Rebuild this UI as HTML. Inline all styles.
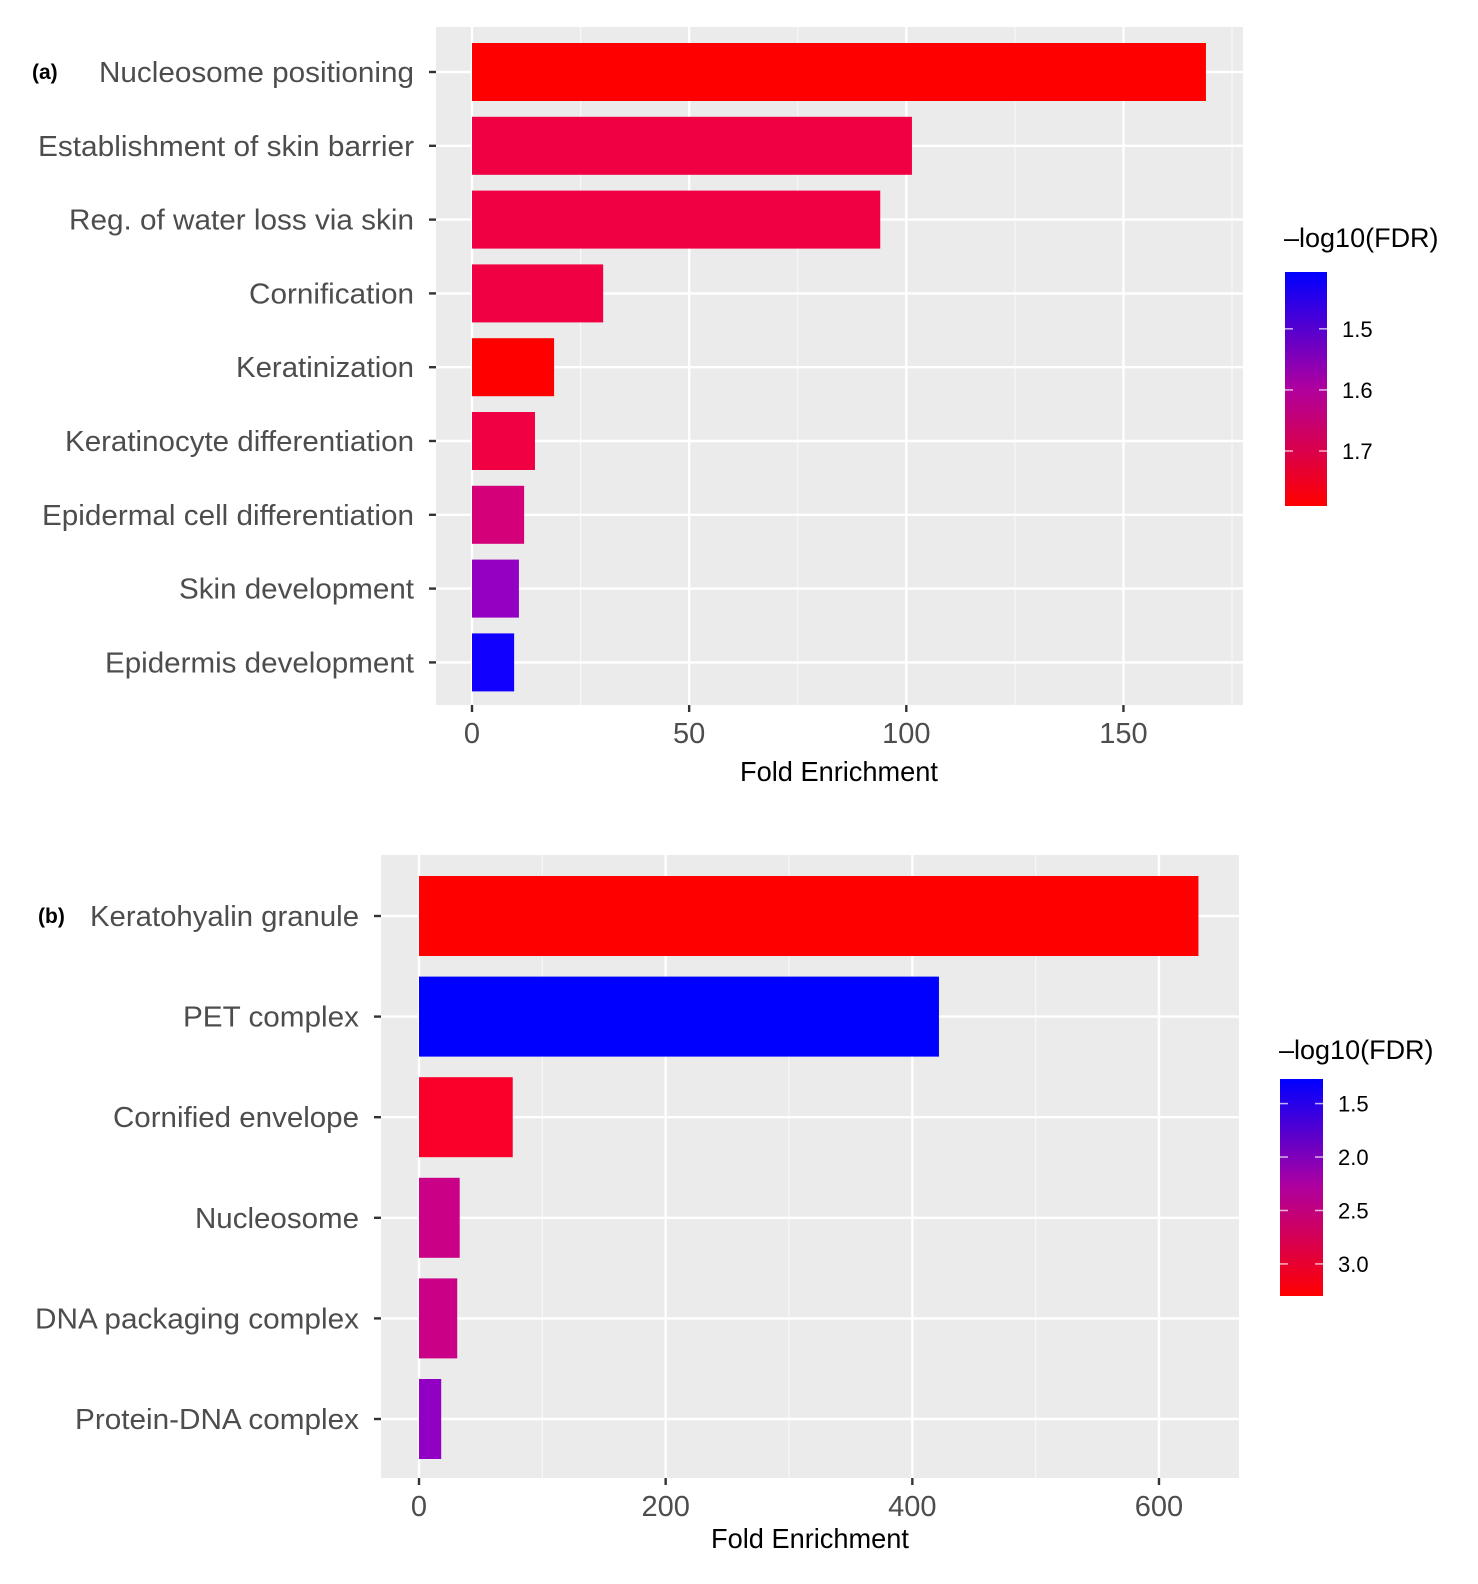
<!DOCTYPE html>
<html><head><meta charset="utf-8"><style>
html,body{margin:0;padding:0;background:#fff;width:1478px;height:1584px;overflow:hidden}
svg{display:block;position:absolute;left:0;top:0;width:1478px;height:1584px;font-family:"Liberation Sans",sans-serif}
</style></head><body>
<svg id="chart" width="1478" height="1584" viewBox="0 0 1478 1584">
<defs>
<linearGradient id="gA" x1="0" y1="0" x2="0" y2="1"><stop offset="0" stop-color="#0000ff"/><stop offset="0.5" stop-color="#b0009e"/><stop offset="1" stop-color="#ff0000"/></linearGradient>
</defs>
<g id="panelA"></g>
<g id="panelB"></g>
</svg>
<script>
var catsA=["Nucleosome positioning","Establishment of skin barrier","Reg. of water loss via skin","Cornification","Keratinization","Keratinocyte differentiation","Epidermal cell differentiation","Skin development","Epidermis development"];
var valsA=[169,101.3,94,30.2,18.9,14.5,12,10.8,9.7];
var fdrA=[1.79,1.75,1.75,1.75,1.79,1.75,1.68,1.55,1.41];
var ticksA=[0,50,100,150];
var labelStartA=[99,38,69,249,236,65,42,179,105];
var catsB=["Keratohyalin granule","PET complex","Cornified envelope","Nucleosome","DNA packaging complex","Protein-DNA complex"];
var valsB=[632,421.6,76,33,31,18];
var fdrB=[3.3,1.27,3.2,2.6,2.6,2.0];
var ticksB=[0,200,400,600];
var labelStartB=[90,183,113,195,35,75];
var legTicksA=[1.5,1.6,1.7];
var legTicksB=[1.5,2.0,2.5,3.0];
var SVGNS="http://www.w3.org/2000/svg";
function mk(p,t,a,txt){
  var e=document.createElementNS(SVGNS,t);
  for(var k in a){e.setAttribute(k,String(a[k]));}
  if(txt!==undefined){e.textContent=txt;}
  p.appendChild(e);
  return e;
}
function col(t){
  if(t<0)t=0; if(t>1)t=1;
  var r=Math.round(255*Math.pow(t,0.55));
  var b=Math.round(255*Math.pow(1-t,0.6));
  return "rgb("+r+",0,"+b+")";
}
function slug(s){return s.toLowerCase().replace(/[^a-z0-9]+/g,"-");}
function panel(g,o){
  function X(v){return o.zeroPx+v*o.pxPerUnit;}
  function Y(i){return o.rowY0+i*o.rowStep;}
  var i,v,e,t;
  e=mk(g,"rect",{x:o.x0,y:o.y0,width:o.x1-o.x0,height:o.y1-o.y0,fill:"#ebebeb"});
  
  
  for(i=0;i<o.minor.length;i++){v=o.minor[i];mk(g,"line",{x1:X(v),x2:X(v),y1:o.y0,y2:o.y1,stroke:"#f8f8f8","stroke-width":1.2});}
  for(i=0;i<o.ticks.length;i++){v=o.ticks[i];mk(g,"line",{x1:X(v),x2:X(v),y1:o.y0,y2:o.y1,stroke:"#ffffff","stroke-width":2.4});}
  for(i=0;i<o.cats.length;i++){mk(g,"line",{x1:o.x0,x2:o.x1,y1:Y(i),y2:Y(i),stroke:"#ffffff","stroke-width":2.4});}
  for(i=0;i<o.cats.length;i++){
    var c=o.cats[i];
    var r=mk(g,"rect",{x:X(0),y:Y(i)-o.barH/2,width:X(o.vals[i])-X(0),height:o.barH,fill:col((o.fdr[i]-o.fmin)/(o.fmax-o.fmin))});
    
    
    mk(g,"line",{x1:o.x0-7,x2:o.x0,y1:Y(i),y2:Y(i),stroke:"#333333","stroke-width":2.4});
    t=mk(g,"text",{x:o.labelEnd,y:Y(i)+10,"text-anchor":"end","font-size":29,fill:"#4d4d4d",textLength:o.labelEnd-o.starts[i],lengthAdjust:"spacingAndGlyphs"},c);
    
    
  }
  for(i=0;i<o.ticks.length;i++){
    v=o.ticks[i];
    mk(g,"line",{x1:X(v),x2:X(v),y1:o.y1,y2:o.y1+7,stroke:"#333333","stroke-width":2.4});
    t=mk(g,"text",{x:X(v),y:o.y1+38,"text-anchor":"middle","font-size":29,fill:"#4d4d4d"},String(v));
    
    
  }
  t=mk(g,"text",{x:o.axisTitleX,y:o.axisTitleY,"text-anchor":"middle","font-size":28,fill:"#000000",textLength:198,lengthAdjust:"spacingAndGlyphs"},"Fold Enrichment");
  
  
  t=mk(g,"text",{x:o.labelTagX,y:o.tagY,"font-size":21,"font-weight":"bold",fill:"#000000"},o.labelTag);
  
  
  var lg=mk(g,"g",{});
  
  
  var L=o.leg;
  mk(lg,"text",{x:L.x-1,y:L.titleY,"font-size":27,fill:"#000000"},"\u2013log10(FDR)");
  mk(lg,"rect",{x:L.x,y:L.y0,width:L.w,height:L.y1-L.y0,fill:"url(#gA)"});
  for(i=0;i<o.legTicks.length;i++){
    v=o.legTicks[i];
    var ly=L.y0+(v-o.fmin)/(o.fmax-o.fmin)*(L.y1-L.y0);
    mk(lg,"line",{x1:L.x,x2:L.x+8,y1:ly,y2:ly,stroke:"#ffffff","stroke-width":1.5,opacity:0.7});
    mk(lg,"line",{x1:L.x+L.w-8,x2:L.x+L.w,y1:ly,y2:ly,stroke:"#ffffff","stroke-width":1.5,opacity:0.7});
    mk(lg,"text",{x:L.x+L.w+15,y:ly+8,"font-size":22,fill:"#000000"},v.toFixed(1));
  }
}
panel(document.getElementById("panelA"),{cats:catsA,vals:valsA,fdr:fdrA,ticks:ticksA,starts:labelStartA,
 x0:436,x1:1243,y0:27,y1:705,zeroPx:472,pxPerUnit:4.343,rowY0:72,rowStep:73.8,barH:58,minor:[25,75,125,175],
 fmin:1.407,fmax:1.79,leg:{x:1285,w:42,y0:272,y1:506,titleY:247},legTicks:legTicksA,labelEnd:414,labelTag:"(a)",labelTagX:32,tagY:79,axisTitleX:839,axisTitleY:781});
panel(document.getElementById("panelB"),{cats:catsB,vals:valsB,fdr:fdrB,ticks:ticksB,starts:labelStartB,
 x0:381,x1:1239,y0:855,y1:1478,zeroPx:419,pxPerUnit:1.2333,rowY0:916,rowStep:100.6,barH:80,minor:[100,300,500],
 fmin:1.27,fmax:3.3,leg:{x:1280,w:43,y0:1079,y1:1296,titleY:1059},legTicks:legTicksB,labelEnd:359,labelTag:"(b)",labelTagX:38,tagY:923,axisTitleX:810,axisTitleY:1548});
</script>
</body></html>
